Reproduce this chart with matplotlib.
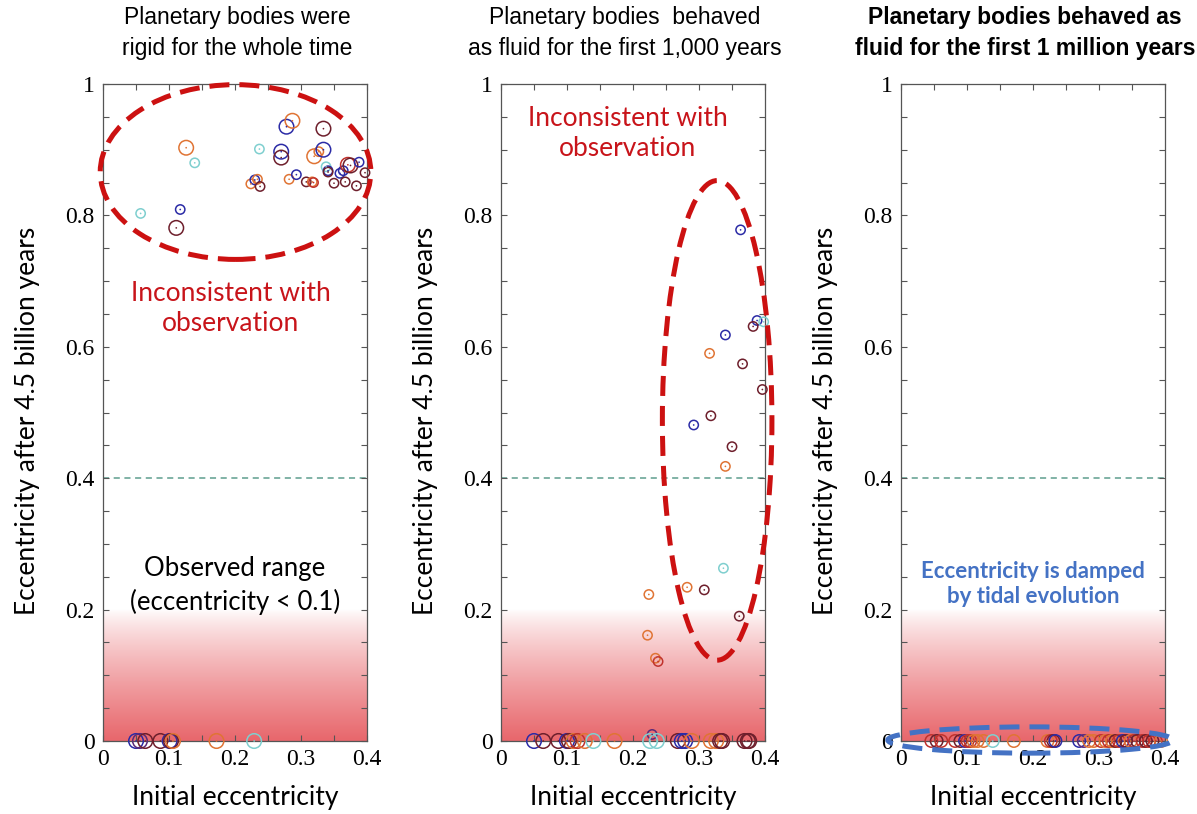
import numpy as np
import matplotlib
matplotlib.use("Agg")
import matplotlib.pyplot as plt
from matplotlib.patches import Ellipse
from matplotlib.colors import LinearSegmentedColormap

# ---------------- data ----------------
titles = ["Planetary bodies were\nrigid for the whole time",
          "Planetary bodies  behaved\nas fluid for the first 1,000 years",
          "Planetary bodies behaved as\nfluid for the first 1 million years"]
xlabel = "Initial eccentricity"
ylabel = "Eccentricity after 4.5 billion years"
xticks = [0, 0.1, 0.2, 0.3, 0.4]
xticklabels = ["0", "0.1", "0.2", "0.3", "0.4"]
yticks = [0, 0.2, 0.4, 0.6, 0.8, 1.0]
yticklabels = ["0", "0.2", "0.4", "0.6", "0.8", "1"]
observed_limit = 0.4

# group codes: B blue, O orange, M maroon, C cyan, R red, P purple
p1_x = [0.126, 0.139, 0.057, 0.117, 0.111, 0.237, 0.224, 0.230, 0.234, 0.238,
        0.270, 0.270, 0.278, 0.287, 0.282, 0.293, 0.308, 0.317, 0.319, 0.334,
        0.320, 0.327, 0.334, 0.338, 0.341, 0.341, 0.350, 0.359, 0.364, 0.367,
        0.371, 0.375, 0.384, 0.388, 0.397,
        0.050, 0.056, 0.064, 0.087, 0.101, 0.103, 0.106, 0.172, 0.229]
p1_y = [0.903, 0.880, 0.803, 0.809, 0.781, 0.901, 0.848, 0.854, 0.855, 0.844,
        0.897, 0.888, 0.935, 0.944, 0.855, 0.862, 0.851, 0.851, 0.850, 0.932,
        0.890, 0.897, 0.900, 0.874, 0.868, 0.866, 0.849, 0.864, 0.868, 0.851,
        0.877, 0.876, 0.845, 0.881, 0.865,
        0, 0, 0, 0, 0, 0, 0, 0, 0]
p1_g = ["O", "C", "C", "B", "M", "C", "O", "B", "O", "M",
        "B", "M", "B", "O", "O", "B", "M", "O", "R", "M",
        "O", "O", "B", "C", "B", "M", "M", "B", "B", "M",
        "R", "M", "M", "B", "M",
        "B", "P", "M", "M", "B", "M", "O", "O", "C"]
p1_big = [1, 0, 0, 0, 1, 0, 0, 0, 0, 0,
          1, 1, 1, 1, 0, 0, 0, 0, 0, 1,
          1, 0, 1, 0, 0, 0, 0, 0, 0, 0,
          1, 1, 0, 0, 0,
          1, 1, 1, 1, 1, 1, 1, 1, 1]

p2_x = [0.363, 0.388, 0.382, 0.398, 0.340, 0.316, 0.366, 0.396, 0.292, 0.318,
        0.350, 0.340, 0.337, 0.224, 0.282, 0.308, 0.361, 0.222, 0.234, 0.238,
        0.229,
        0.050, 0.064, 0.087, 0.100, 0.103, 0.110, 0.116, 0.127, 0.140, 0.172,
        0.226, 0.236, 0.268, 0.274, 0.279, 0.289, 0.318, 0.326, 0.332, 0.335,
        0.369, 0.374, 0.376]
p2_y = [0.778, 0.640, 0.631, 0.638, 0.618, 0.590, 0.574, 0.535, 0.481, 0.495,
        0.448, 0.418, 0.263, 0.223, 0.234, 0.230, 0.190, 0.161, 0.126, 0.121,
        0.010,
        0, 0, 0, 0, 0, 0, 0, 0, 0, 0,
        0, 0, 0, 0, 0, 0, 0, 0, 0, 0,
        0, 0, 0]
p2_g = ["B", "B", "M", "C", "B", "O", "M", "M", "B", "M",
        "M", "O", "C", "O", "O", "M", "M", "O", "O", "R",
        "P",
        "B", "M", "M", "B", "M", "O", "R", "O", "C", "O",
        "C", "C", "M", "B", "B", "O", "O", "O", "M", "M",
        "M", "M", "M"]
p2_big = [0] * 21 + [1] * 23

p3_x = [0.046, 0.054, 0.061, 0.082, 0.090, 0.097, 0.101, 0.105, 0.110, 0.116,
        0.125, 0.139, 0.171, 0.222, 0.227, 0.231, 0.234, 0.270, 0.277, 0.285,
        0.292, 0.303, 0.310, 0.315, 0.320, 0.325, 0.330, 0.336, 0.341, 0.348,
        0.353, 0.358, 0.366, 0.371, 0.376, 0.381, 0.386, 0.394]
p3_y = [0.0] * len(p3_x)
p3_g = ["R", "M", "R", "R", "M", "B", "R", "R", "O", "O",
        "O", "C", "O", "O", "R", "M", "B", "B", "P", "O",
        "O", "R", "O", "R", "O", "M", "R", "B", "M", "O",
        "R", "M", "R", "M", "R", "M", "R", "O"]
p3_big = [2] * len(p3_x)

palette = {"B": "#2b2ba6", "O": "#e07434", "M": "#6e1f2c",
           "C": "#7fcfcf", "R": "#c0322c", "P": "#5b2a78"}
size_of = {0: 45, 1: 110, 2: 80}

# ---------------- figure ----------------
W, H = 1197, 814
fig = plt.figure(figsize=(W / 100, H / 100), dpi=100)
lefts = [103, 501, 901]
pw = 264
top_px, bot_px = 84, 741

sans = ["Lato", "DejaVu Sans"]
narrow = ["Liberation Sans Narrow", "Liberation Sans", "DejaVu Sans"]
serif = ["Liberation Serif", "DejaVu Serif"]

cmap = LinearSegmentedColormap.from_list("fade", ["#ffffff", "#e8676c"])
grad = np.linspace(1, 0, 200).reshape(-1, 1)
grad = grad ** 0.8

datasets = [(p1_x, p1_y, p1_g, p1_big), (p2_x, p2_y, p2_g, p2_big),
            (p3_x, p3_y, p3_g, p3_big)]
title_x = [237, 625, 1025]

axes = []
for i, (xs, ys, gs, bigs) in enumerate(datasets):
    ax = fig.add_axes([lefts[i] / W, 1 - bot_px / H, pw / W, (bot_px - top_px) / H])
    axes.append(ax)
    ax.set_xlim(0, 0.4)
    ax.set_ylim(0, 1)
    # gradient for observed range (strong at the bottom, white at 0.2)
    ax.imshow(grad, extent=[0, 0.4, 0, 0.2], origin="lower", cmap=cmap,
              aspect="auto", vmin=0, vmax=1, zorder=0)
    ax.axhline(observed_limit, color="#5e9e8e", lw=1.1, ls=(0, (4, 3)), zorder=1)
    cols = [palette[g] for g in gs]
    sizes = [size_of[b] for b in bigs]
    ax.scatter(xs, ys, s=sizes, facecolors="none", edgecolors=cols,
               linewidths=1.1, zorder=3, clip_on=False)
    ax.scatter(xs, ys, s=1.5, c=cols, zorder=3, clip_on=False, linewidths=0)

    ax.set_xticks(xticks)
    ax.set_xticklabels(xticklabels, fontfamily=serif)
    ax.set_yticks(yticks)
    ax.set_yticklabels(yticklabels, fontfamily=serif)
    ax.set_xticks(np.arange(0, 0.401, 0.05), minor=True)
    ax.set_yticks(np.arange(0, 1.001, 0.05), minor=True)
    ax.tick_params(which="both", direction="in", top=True, right=True,
                   length=4, width=0.8, color="#555555", pad=6, labelsize=17)
    for sp in ax.spines.values():
        sp.set_color("#555555")
        sp.set_linewidth(0.9)
    ax.text(-75 / pw, 0.487, ylabel, rotation=90, ha="center", va="center",
            transform=ax.transAxes, fontsize=19, family=sans)
    ax.text(0.5, -57 / (bot_px - top_px), xlabel, ha="center", va="center",
            transform=ax.transAxes, fontsize=19, family=sans)
    fig.text(title_x[i] / W, 1 - 33 / H, titles[i], ha="center", va="center",
             fontsize=16.5, family=narrow, linespacing=1.45,
             fontweight="bold" if i == 2 else "normal")

# annotations
red = "#c8141a"
e1 = Ellipse((0.2008, 0.866), 0.41, 0.266, fill=False, ec="#cc1111", lw=3.6,
             ls=(0, (4, 2)), clip_on=False, zorder=4)
axes[0].add_patch(e1)
axes[0].text(0.193, 0.659, "Inconsistent with\nobservation", color=red,
             ha="center", va="center", fontsize=19, family=sans, linespacing=1.25)
axes[0].text(0.2, 0.237, "Observed range\n(eccentricity < 0.1)", color="black",
             ha="center", va="center", fontsize=18.5, family=sans, linespacing=1.35)

e2 = Ellipse((0.3275, 0.488), 0.166, 0.73, fill=False, ec="#cc1111", lw=3.6,
             ls=(0, (4, 2)), clip_on=False, zorder=4)
axes[1].add_patch(e2)
axes[1].text(0.192, 0.925, "Inconsistent with\nobservation", color=red,
             ha="center", va="center", fontsize=19, family=sans, linespacing=1.25)

e3 = Ellipse((0.196, 0.0015), 0.432, 0.04, fill=False, ec="#4472c4", lw=3.6,
             ls=(0, (4, 2)), clip_on=False, zorder=4)
axes[2].add_patch(e3)
axes[2].text(0.2, 0.239, "Eccentricity is damped\nby tidal evolution", color="#4472c4",
             ha="center", va="center", fontsize=16, family=sans, fontweight="bold",
             linespacing=1.25)

fig.savefig("out.png", dpi=100)
